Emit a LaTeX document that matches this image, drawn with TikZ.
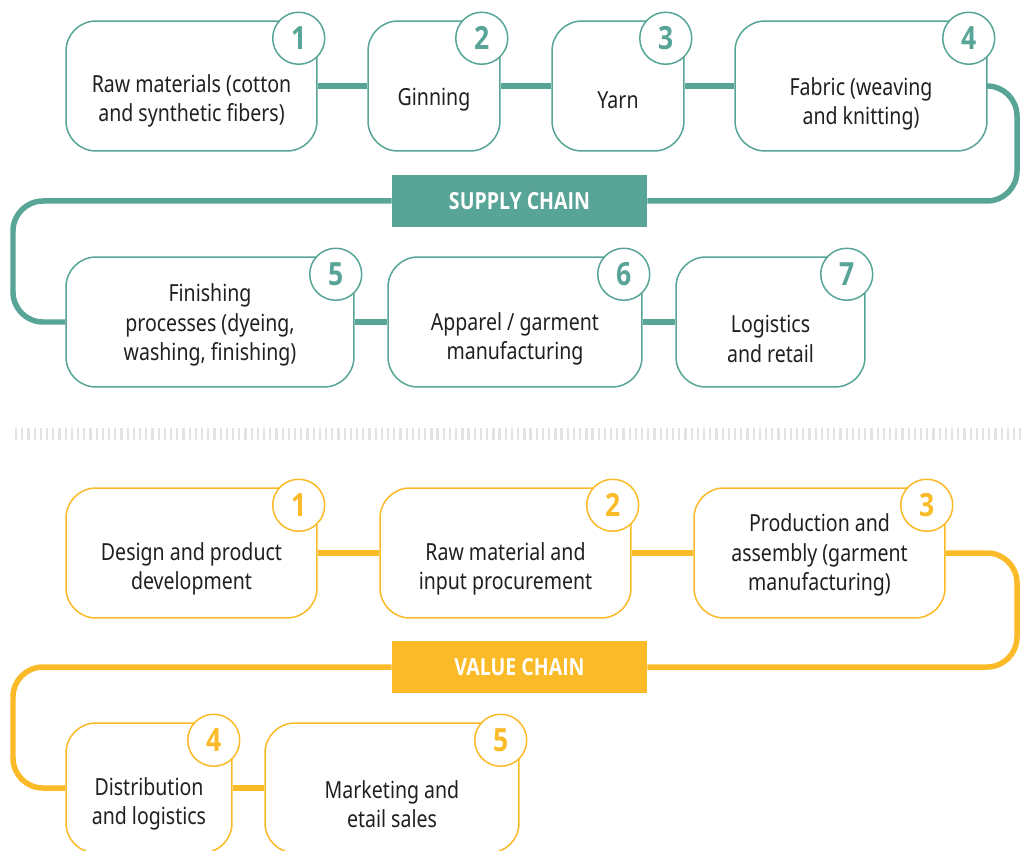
\documentclass[tikz,border=0pt]{standalone}
\usepackage{fontspec}
\setmainfont{Noto Sans}[FakeStretch=0.83]
\newfontfamily\heavyfont{Open Sans}[FakeStretch=0.83]
\usetikzlibrary{positioning}

\definecolor{chainteal}{RGB}{88,165,151}
\definecolor{chainyellow}{RGB}{251,186,39}
\definecolor{ink}{RGB}{35,31,32}
\definecolor{ticks}{RGB}{227,227,227}

\tikzset{
  stagebox/.style={draw=#1, line width=0.03cm, rounded corners=0.6cm, fill=white,
    minimum height=2.6cm, inner sep=0pt},
  stagetext/.style={align=center, text=ink, inner sep=0pt,
    font=\fontsize{13.4}{16.8}\selectfont},
  badge/.style={circle, draw=#1, fill=white, line width=0.03cm, minimum size=1.04cm,
    inner sep=0pt, text=#1, font=\heavyfont\bfseries\fontsize{18.2}{18.2}\selectfont},
  link/.style={draw=#1, line width=0.11cm, rounded corners=0.6cm},
  banner/.style={fill=#1, text=white, minimum width=5.1cm, minimum height=1.04cm,
    inner sep=0pt, font=\heavyfont\bfseries\fontsize{13.4}{13.4}\selectfont},
}

\begin{document}
\begin{tikzpicture}[x=0.02cm, y=-0.02cm]
	\useasboundingbox (0,0) rectangle (1021,851);

	% supply chain, first row
	\node[stagebox=chainteal, minimum width=5.02cm] (s1) at (191.5,86) {};
	\node[stagebox=chainteal, minimum width=2.64cm] (s2) at (434,86) {};
	\node[stagebox=chainteal, minimum width=2.64cm] (s3) at (618,86) {};
	\node[stagebox=chainteal, minimum width=5.04cm] (s4) at (861,86) {};

	% supply chain, second row
	\node[stagebox=chainteal, minimum width=5.76cm] (s5) at (210,322) {};
	\node[stagebox=chainteal, minimum width=5.08cm] (s6) at (515,322) {};
	\node[stagebox=chainteal, minimum width=3.78cm] (s7) at (770.5,322) {};

	\node[banner=chainteal] (sb) at (519.5,201) {SUPPLY CHAIN};
	\coordinate (sr) at (1017,0);
	\coordinate (sl) at (13,0);

	\draw[link=chainteal] (s1.east) -- (s2.west);
	\draw[link=chainteal] (s2.east) -- (s3.west);
	\draw[link=chainteal] (s3.east) -- (s4.west);
	\draw[link=chainteal] (s4.east) -| (sr |- sb) -- (sb.east);
	\draw[link=chainteal] (sb.west) -| (sl |- s5) -- (s5.west);
	\draw[link=chainteal] (s5.east) -- (s6.west);
	\draw[link=chainteal] (s6.east) -- (s7.west);

	\node[stagetext] (s1t) at ([yshift=-0.3cm]s1.center) {Raw materials (cotton\\and synthetic fibers)};
	\node[stagetext] (s2t) at ([yshift=-0.28cm]s2.center) {Ginning};
	\node[stagetext] (s3t) at ([yshift=-0.28cm]s3.center) {Yarn};
	\node[stagetext] (s4t) at ([yshift=-0.36cm]s4.center) {Fabric (weaving\\and knitting)};
	\node[stagetext] (s5t) at ([yshift=-0.06cm]s5.center) {Finishing\\processes (dyeing,\\washing, finishing)};
	\node[stagetext] (s6t) at ([yshift=-0.34cm]s6.center) {Apparel / garment\\manufacturing};
	\node[stagetext] (s7t) at ([yshift=-0.34cm]s7.center) {Logistics\\and retail};

	\foreach \n/\k in {s1/1, s2/2, s3/3, s4/4, s5/5, s6/6, s7/7}
		\node[badge=chainteal] (\n n) at ([xshift=-0.38cm, yshift=-0.36cm]\n.north east) {\k};

	% dotted rule between the two chains
	\draw[ticks, line width=0.25cm, dash pattern=on 0.045cm off 0.079cm] (15,434) -- (1021,434);

	% value chain, first row
	\node[stagebox=chainyellow, minimum width=5.02cm] (v1) at (191.5,553) {};
	\node[stagebox=chainyellow, minimum width=5.02cm] (v2) at (505.5,553) {};
	\node[stagebox=chainyellow, minimum width=5.02cm] (v3) at (819.5,553) {};

	% value chain, second row
	\node[stagebox=chainyellow, minimum width=3.32cm] (v4) at (149,788) {};
	\node[stagebox=chainyellow, minimum width=5.08cm] (v5) at (392,788) {};

	\node[banner=chainyellow] (vb) at (519.5,667) {VALUE CHAIN};
	\coordinate (vr) at (1017,0);
	\coordinate (vl) at (13,0);

	\draw[link=chainyellow] (v1.east) -- (v2.west);
	\draw[link=chainyellow] (v2.east) -- (v3.west);
	\draw[link=chainyellow] (v3.east) -| (vr |- vb) -- (vb.east);
	\draw[link=chainyellow] (vb.west) -| (vl |- v4) -- (v4.west);
	\draw[link=chainyellow] (v4.east) -- (v5.west);

	\node[stagetext] (v1t) at ([yshift=-0.32cm]v1.center) {Design and product\\development};
	\node[stagetext] (v2t) at ([yshift=-0.32cm]v2.center) {Raw material and\\input procurement};
	\node[stagetext] (v3t) at ([yshift=-0.04cm]v3.center) {Production and\\assembly (garment\\manufacturing)};
	\node[stagetext] (v4t) at ([yshift=-0.32cm]v4.center) {Distribution\\and logistics};
	\node[stagetext] (v5t) at ([yshift=-0.32cm]v5.center) {Marketing and\\etail sales};

	\foreach \n/\k in {v1/1, v2/2, v3/3, v4/4, v5/5}
		\node[badge=chainyellow] (\n n) at ([xshift=-0.38cm, yshift=-0.36cm]\n.north east) {\k};
\end{tikzpicture}
\end{document}
